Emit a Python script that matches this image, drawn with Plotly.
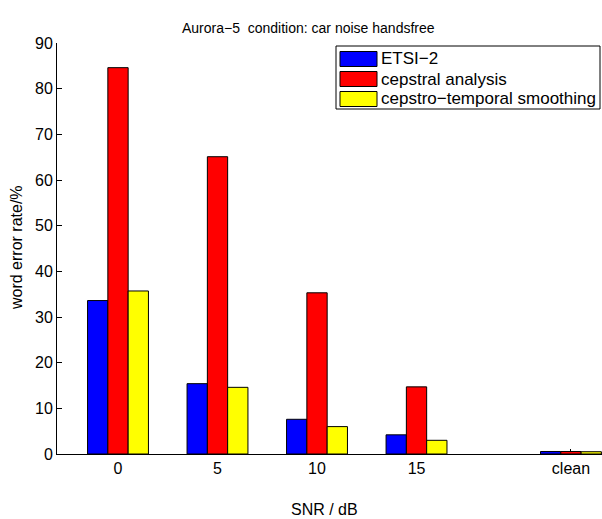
import plotly.graph_objects as go

# ---- data ----
snr_positions = [0, 5, 10, 15, 22.76]
tick_labels = ["0", "5", "10", "15", "clean"]
etsi2 = [33.6, 15.4, 7.6, 4.2, 0.55]
cepstral = [84.6, 65.1, 35.3, 14.7, 0.55]
cepstro_temporal = [35.7, 14.6, 6.0, 3.0, 0.5]
series_names = ["ETSI\u22122", "cepstral analysis", "cepstro\u2212temporal smoothing"]
series_values = [etsi2, cepstral, cepstro_temporal]
colors = ["#0000ff", "#ff0000", "#ffff00"]
y_ticks = list(range(0, 91, 10))

FONT = "Liberation Sans, Arial, Helvetica, sans-serif"
W, H = 602, 519
L, R, T, B = 57, 0, 43, 65
pw, ph = W - L - R, H - T - B


def px_to_paper_x(px):
    return (px - L) / pw


def px_to_paper_y(py):
    return (H - B - py) / ph


fig = go.Figure()
for name, vals, col in zip(series_names, series_values, colors):
    fig.add_trace(go.Bar(
        x=snr_positions, y=vals, name=name,
        marker=dict(color=col, line=dict(color="black", width=1)),
        showlegend=False,
    ))

fig.update_layout(
    width=W, height=H,
    margin=dict(l=L, r=R, t=T, b=B),
    plot_bgcolor="white", paper_bgcolor="white",
    barmode="group", bargap=0.388, bargroupgap=0,
    font=dict(family=FONT, size=16, color="black"),
    showlegend=False,
)
fig.update_xaxes(
    range=[-3.065, 24.32],
    tickvals=snr_positions, ticktext=tick_labels,
    ticks="inside", ticklen=5, tickcolor="black",
    showline=True, linecolor="black", linewidth=1,
    showgrid=False, zeroline=False, layer="below traces",
    tickfont=dict(size=16),
)
fig.update_yaxes(
    range=[0, 90], tickvals=y_ticks,
    ticks="inside", ticklen=5, tickcolor="black",
    showline=True, linecolor="black", linewidth=1,
    showgrid=False, zeroline=False, layer="below traces",
    tickfont=dict(size=16),
)

annotations = [
    dict(text="Aurora\u22125\u00a0 condition: car noise handsfree",
         x=px_to_paper_x(308), y=px_to_paper_y(28), xref="paper", yref="paper",
         xanchor="center", yanchor="middle", showarrow=False, font=dict(size=14)),
    dict(text="SNR / dB", x=px_to_paper_x(324), y=px_to_paper_y(509),
         xref="paper", yref="paper", xanchor="center", yanchor="middle",
         showarrow=False, font=dict(size=16)),
    dict(text="word error rate/%", x=px_to_paper_x(17), y=px_to_paper_y(248),
         xref="paper", yref="paper", xanchor="center", yanchor="middle",
         textangle=-90, showarrow=False, font=dict(size=16)),
]

shapes = [
    dict(type="rect", xref="paper", yref="paper",
         x0=px_to_paper_x(336), x1=px_to_paper_x(600),
         y0=px_to_paper_y(109), y1=px_to_paper_y(46),
         line=dict(color="black", width=1), fillcolor="white", layer="above"),
]
row_centers = [59, 79, 99]
for name, col, cy in zip(series_names, colors, row_centers):
    shapes.append(dict(type="rect", xref="paper", yref="paper",
                       x0=px_to_paper_x(340), x1=px_to_paper_x(377),
                       y0=px_to_paper_y(cy + 7.5), y1=px_to_paper_y(cy - 7.5),
                       line=dict(color="black", width=1), fillcolor=col, layer="above"))
    annotations.append(dict(text=name, x=px_to_paper_x(379), y=px_to_paper_y(cy),
                            xref="paper", yref="paper", xanchor="left", yanchor="middle",
                            showarrow=False, font=dict(size=17)))

fig.update_layout(annotations=annotations, shapes=shapes)
fig.write_html("out.html", config={"displayModeBar": False},
               post_script="document.body.style.margin='0';")
